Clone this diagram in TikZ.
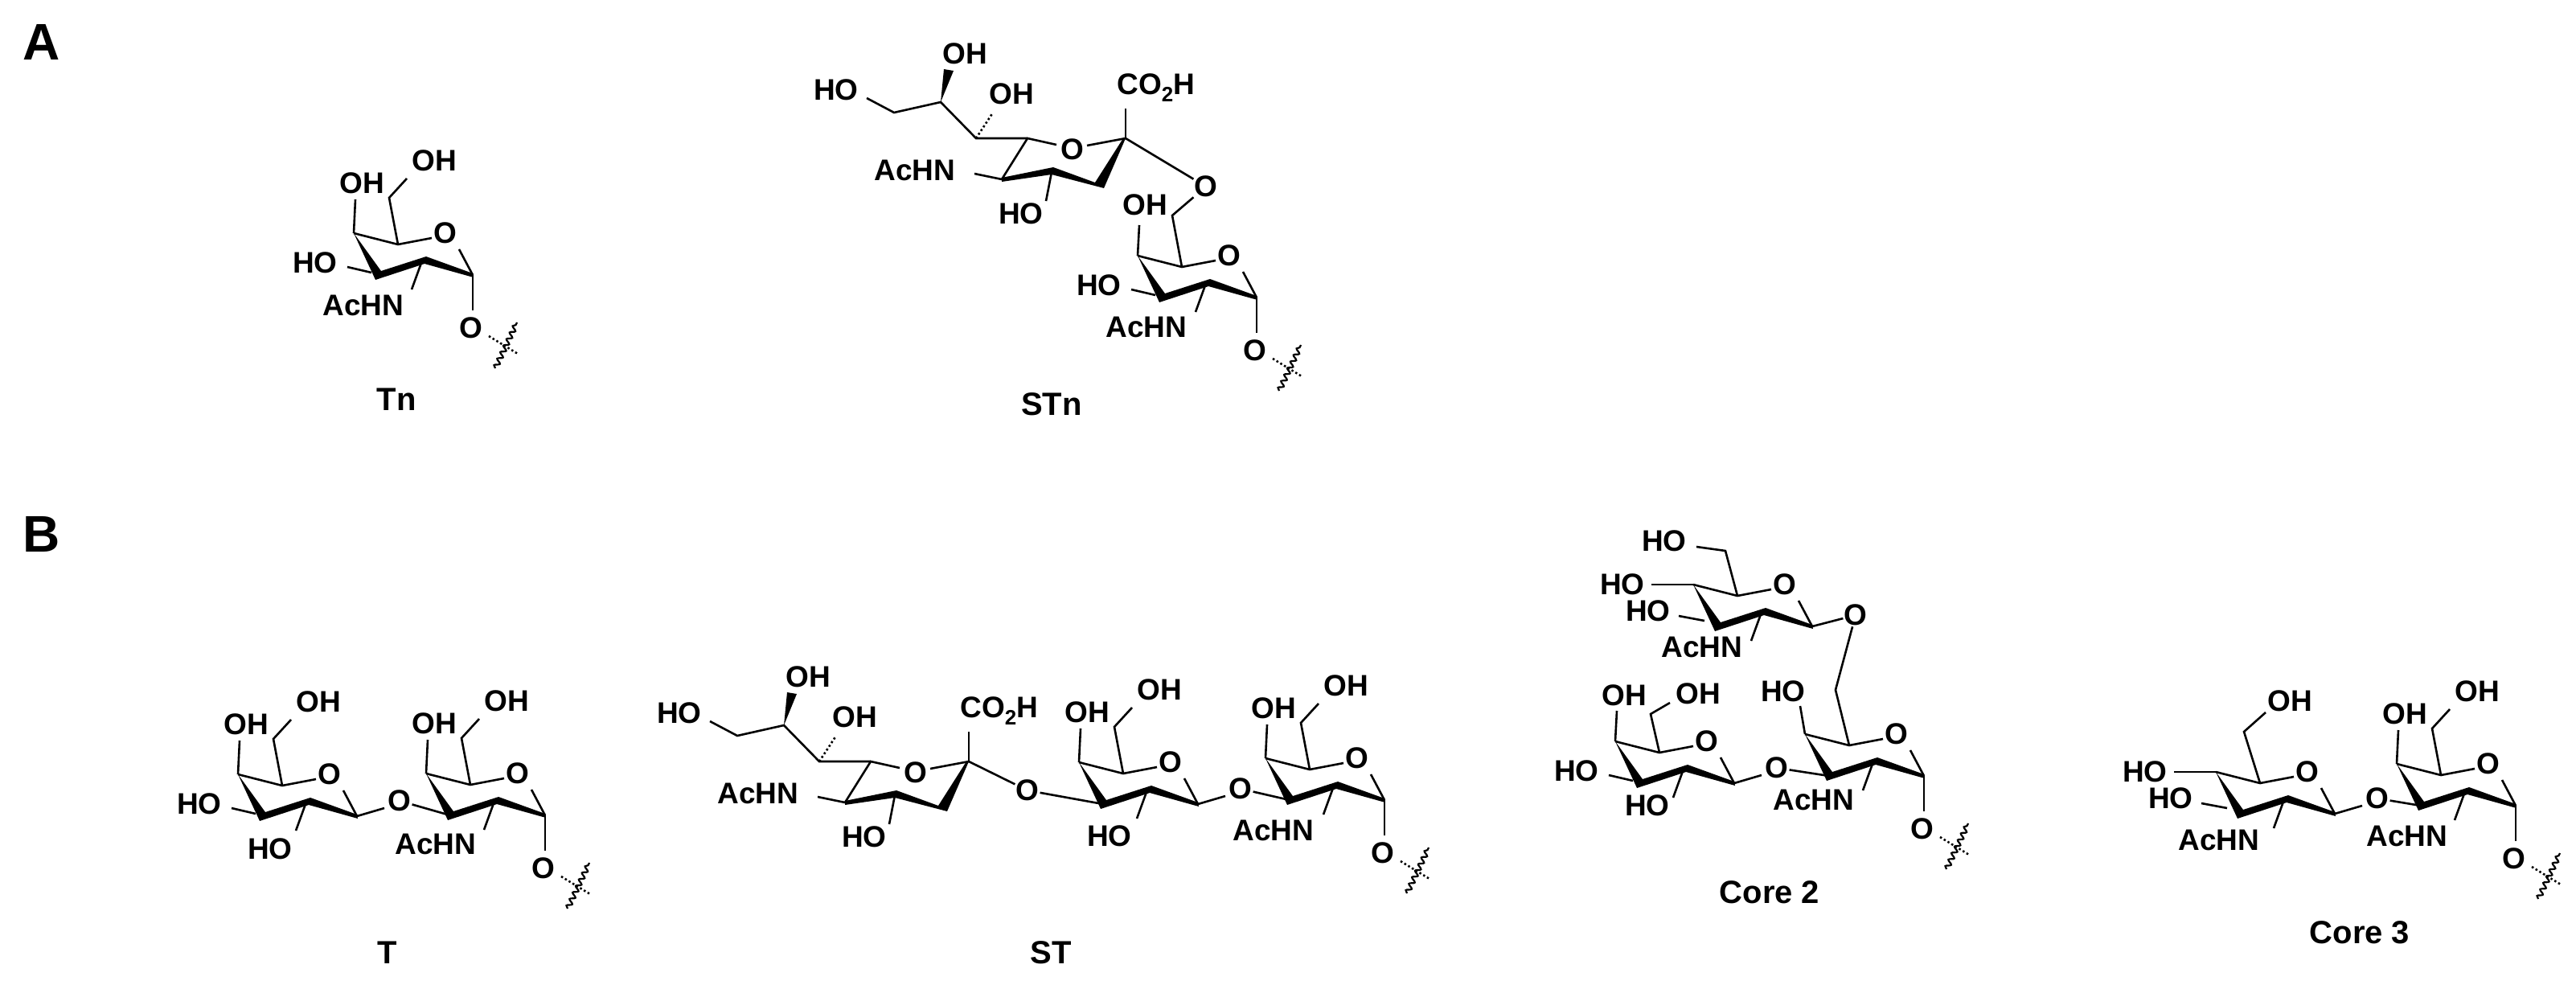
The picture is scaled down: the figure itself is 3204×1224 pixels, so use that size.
\documentclass[tikz,border=0pt]{standalone}
\usepackage{fontspec}
\setmainfont{Liberation Sans}
\usetikzlibrary{decorations.pathmorphing}
\tikzset{
 bond/.style={line width=2.6pt},
 hashb/.style={line width=2.6pt,dash pattern=on 2.5pt off 3pt},
 lab/.style={inner sep=1pt,font=\fontsize{37}{37}\selectfont\bfseries},
 title/.style={inner sep=0pt,font=\fontsize{40}{40}\selectfont\bfseries},
 panel/.style={inner sep=0pt,font=\fontsize{64}{64}\selectfont\bfseries},
 wav/.style={line width=2.2pt,decorate,decoration={snake,segment length=9pt,amplitude=3pt}}
}
% ring local coordinates: origin at C4
\newcommand\ringbase[1]{%
 \coordinate (#1c4) at (0,0); \coordinate (#1c5) at (55,14);
 \coordinate (#1c3) at (30,52); \coordinate (#1c2) at (90,33); \coordinate (#1c1) at (148,52);
 \draw[bond] (0,0)--(55,14)--(97,6);
 \node[lab] (#1ro) at (114,0) {O};
 \draw[bond] (131,20)--(148,52);
 \fill (0,0)--(34,47)--(90,29)--(148,50)--(149,55)--(88,38)--(27,58)--cycle;
}
\newcommand\galtop[1]{%
 \draw[bond] (0,0)--(2,-42); \node[lab] (#1oh4) at (10,-62) {OH};
 \draw[bond] (55,14)--(44,-44)--(66,-68); \node[lab] (#1oh6) at (100,-90) {OH};
}
\newcommand\galtoplow[1]{%
 \draw[bond] (0,0)--(2,-38); \node[lab] (#1oh4) at (11,-57) {OH};
 \draw[bond] (55,14)--(44,-34)--(68,-48); \node[lab] (#1oh6) at (103,-59) {OH};
}
\newcommand\cthree[1]{\draw[bond] (22,49)--(-8,42); \node[lab] (#1oh3) at (-48,37) {HO};}
\newcommand\ctwo[3]{\draw[bond] (84,37)--(72,70); \node[lab] (#1n2) at (#2) {#3};}
\newcommand\alphaO[1]{%
 \draw[bond] (148,52)--(148,96); \node[lab] (#1o1) at (146,118) {O};
 \draw[hashb] (168,128)--(204,150);
 \draw[wav] (176,168)--(203,111);
}
\newcommand\betaO[1]{\draw[bond] (148,52)--(182,42); \node[lab] (#1o1) at (201,33) {O};}
\newcommand\glcleft[1]{%
 \draw[bond] (0,0)--(-52,0); \node[lab] (#1oh4) at (-88,0) {HO};
 \draw[bond] (14,45)--(-18,39); \node[lab] (#1oh3) at (-56,33) {HO};
}
\newcommand\neu[1]{%
 \fill (0,0)--(-27,62)--(-92,45)--(-154,54)--(-154,49)--(-90,36)--(-38,55)--(-3,0)--cycle;
 \draw[bond] (-154,51)--(-122,0)--(-86,8); \node[lab] (#1ro) at (-66,14) {O}; \draw[bond] (-48,9)--(0,0);
 \draw[bond] (0,0)--(0,-37); \node[lab] (#1co) at (38,-63) {CO\textsubscript{2}H};
 \draw[bond] (-188,44)--(-154,51); \node[lab] (#1nh) at (-262,40) {AcHN};
 \draw[bond] (-92,42)--(-99,78); \node[lab] (#1oh4) at (-130,94) {HO};
 \draw[bond] (-122,0)--(-186,0)--(-230,-45)--(-288,-32)--(-322,-50); \node[lab] (#1oh9) at (-360,-60) {HO};
 \draw[hashb] (-186,0)--(-165,-32); \node[lab] (#1oh7) at (-142,-55) {OH};
 \fill (-230,-45)--(-226,-86)--(-214,-84)--cycle; \node[lab] (#1oh8) at (-200,-105) {OH};
}
\begin{document}
\begin{tikzpicture}[x=1pt,y=-1pt]
\useasboundingbox (0,0) rectangle (3204,1224);
\node[panel] (pa) at (52,52) {A};
\node[panel] (pb) at (52,664) {B};
% ---------- Tn
\begin{scope}[shift={(440,290)}]
 \ringbase{tn-} \galtop{tn-} \cthree{tn-} \ctwo{tn-}{12,90}{AcHN} \alphaO{tn-}
\end{scope}
\node[title] (ltn) at (493,497) {Tn};
% ---------- STn
\begin{scope}[shift={(1415,318)}]
 \ringbase{stn-} \draw[bond] (0,0)--(2,-38); \node[lab] (stn-oh4) at (9,-63) {OH};
 \cthree{stn-} \ctwo{stn-}{11,89}{AcHN} \alphaO{stn-}
 \coordinate (stn-c6) at (43,-50);
\end{scope}
\begin{scope}[shift={(1400,172)}]
 \neu{stnn-}
\end{scope}
\node[lab] (stn-ol) at (1500,232) {O};
\draw[bond] (1400,172)--(stn-ol);
\draw[bond] (stn-ol)--(stn-c6)--(stn-c5);
\node[title] (lstn) at (1308,503) {STn};
% ---------- T
\begin{scope}[shift={(296,963)}]
 \ringbase{t1-} \galtop{t1-} \cthree{t1-} \ctwo{t1-}{40,93}{HO} \betaO{t1-}
\end{scope}
\begin{scope}[shift={(530,962)}]
 \ringbase{t2-} \galtop{t2-} \ctwo{t2-}{12,88}{AcHN} \alphaO{t2-}
\end{scope}
\draw[bond] (t1-o1)--(t2-c3);
\node[title] (lt) at (482,1185) {T};
% ---------- ST
\begin{scope}[shift={(1205,947)}]
 \neu{st0-}
\end{scope}
\begin{scope}[shift={(1342,948)}]
 \ringbase{st1-} \galtop{st1-} \ctwo{st1-}{38,92}{HO} \betaO{st1-}
\end{scope}
\begin{scope}[shift={(1574,943)}]
 \ringbase{st2-} \galtop{st2-} \ctwo{st2-}{10,90}{AcHN} \alphaO{st2-}
\end{scope}
\node[lab] (st-o) at (1278,983) {O};
\draw[bond] (1205,947)--(st-o);
\draw[bond] (st-o)--(st1-c3);
\draw[bond] (st1-o1)--(st2-c3);
\node[title] (lst) at (1307,1185) {ST};
% ---------- Core 2
\begin{scope}[shift={(2009,922)}]
 \ringbase{c21-} \galtoplow{c21-} \cthree{c21-} \ctwo{c21-}{40,80}{HO} \betaO{c21-}
\end{scope}
\begin{scope}[shift={(2245,913)}]
 \ringbase{c22-} \draw[bond] (0,0)--(-6,-35); \node[lab] (c22-oh4) at (-27,-53) {HO};
 \ctwo{c22-}{11,82}{AcHN} \alphaO{c22-}
 \coordinate (c22-c6) at (38,-55); \coordinate (c22-c6b) at (57,-126);
\end{scope}
\begin{scope}[shift={(2106,727)}]
 \ringbase{c23-} \glcleft{c23-} \ctwo{c23-}{11,78}{AcHN}
 \draw[bond] (55,14)--(40,-42)--(4,-47); \node[lab] (c23-oh6) at (-36,-54) {HO};
\end{scope}
\node[lab] (c2-o) at (2308,765) {O};
\draw[bond] (c23-c1)--(c2-o);
\draw[bond] (c2-o)--(c22-c6b)--(c22-c6)--(c22-c5);
\draw[bond] (c21-o1)--(c22-c3);
\node[title] (lc2) at (2201,1110) {Core 2};
% ---------- Core 3
\begin{scope}[shift={(2756,960)}]
 \ringbase{c31-} \glcleft{c31-} \ctwo{c31-}{4,85}{AcHN} \betaO{c31-}
 \draw[bond] (55,14)--(35,-50)--(62,-74); \node[lab] (c31-oh6) at (92,-88) {OH};
\end{scope}
\begin{scope}[shift={(2981,950)}]
 \ringbase{c32-} \galtop{c32-} \ctwo{c32-}{13,90}{AcHN} \alphaO{c32-}
\end{scope}
\draw[bond] (c31-o1)--(c32-c3);
\node[title] (lc3) at (2935,1160) {Core 3};
\end{tikzpicture}
\end{document}
